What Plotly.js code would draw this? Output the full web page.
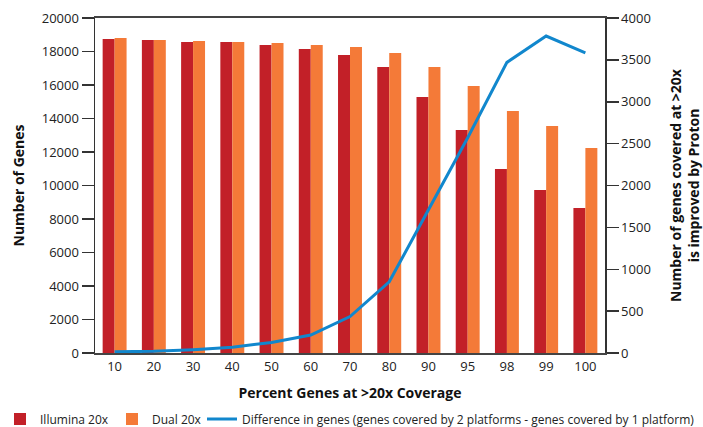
<!DOCTYPE html>
<html>
<head>
<meta charset="utf-8">
<script src="https://cdn.plot.ly/plotly-3.0.1.min.js"></script>
<style>html,body{margin:0;padding:0;background:#fff;}#chart{width:703px;height:427px;}</style>
</head>
<body>
<div id="chart"></div>
<script>
const categories = ["10","20","30","40","50","60","70","80","90","95","98","99","100"];
const illumina = [18750,18690,18570,18570,18390,18150,17790,17075,15285,13310,10985,9730,8660];
const dual = [18800,18690,18630,18570,18510,18390,18270,17910,17075,15940,14450,13550,12240];
const difference = [15,20,40,70,125,215,435,850,1710,2570,3470,3785,3585];
const seriesNames = ["Illumina 20x","Dual 20x","Difference in genes (genes covered by 2 platforms - genes covered by 1 platform)"];
const leftTicks = [0,2000,4000,6000,8000,10000,12000,14000,16000,18000,20000];
const rightTicks = [0,500,1000,1500,2000,2500,3000,3500,4000];

const FONT = "Open Sans, Noto Sans, sans-serif";
const traces = [
  {type:"bar", x:categories, y:illumina, name:seriesNames[0], marker:{color:"#C22028"}, legend:"legend"},
  {type:"bar", x:categories, y:dual, name:seriesNames[1], marker:{color:"#F47A38"}, legend:"legend2"},
  {type:"scatter", mode:"lines", x:categories, y:difference, yaxis:"y2", name:seriesNames[2], line:{color:"#1187CD", width:3}, legend:"legend3"}
];
function leg(xpx){
  return {orientation:"h", xref:"container", yref:"container", x:xpx/703, xanchor:"left", y:1-419/427, yanchor:"middle",
    font:{family:FONT, size:12, color:"#222"}, itemwidth:30, bgcolor:"rgba(0,0,0,0)", borderwidth:0};
}
const layout = {
  width:703, height:427,
  margin:{l:95, r:98, t:18, b:74, autoexpand:false},
  paper_bgcolor:"#fff", plot_bgcolor:"#fff",
  font:{family:FONT, size:13, color:"#222"},
  barmode:"group", bargap:0.39, bargroupgap:0,
  showlegend:true,
  legend:leg(0),
  legend2:leg(112),
  legend3:leg(202),
  xaxis:{type:"category", showline:true, mirror:true, linecolor:"#444", linewidth:2, ticks:"", showgrid:false, zeroline:false,
    tickfont:{size:13, color:"#222"},
    title:{text:"Percent Genes at >20x Coverage", font:{size:14, color:"#111", weight:"bold"}, standoff:15}},
  yaxis:{range:[0,20000], tickvals:leftTicks, ticktext:leftTicks.map(String), showline:true, linecolor:"#333", linewidth:1.5,
    ticks:"outside", ticklen:12, tickcolor:"#333", tickwidth:1.5, showgrid:false, zeroline:false,
    tickfont:{size:13, color:"#222"},
    title:{text:"Number of Genes", font:{size:14, color:"#111", weight:"bold"}, standoff:14}},
  yaxis2:{overlaying:"y", side:"right", range:[0,4000], tickvals:rightTicks, ticktext:rightTicks.map(String), showline:true, linecolor:"#333", linewidth:1.5,
    ticks:"outside", ticklen:12, tickcolor:"#333", tickwidth:1.5, showgrid:false, zeroline:false,
    tickfont:{size:13, color:"#222"},
    title:{text:"Number of genes covered at >20x<br>is improved by Proton", font:{size:14, color:"#111", weight:"bold"}, standoff:26}}
};
Plotly.newPlot("chart", traces, layout, {displayModeBar:false, staticPlot:true});
</script>
</body>
</html>
